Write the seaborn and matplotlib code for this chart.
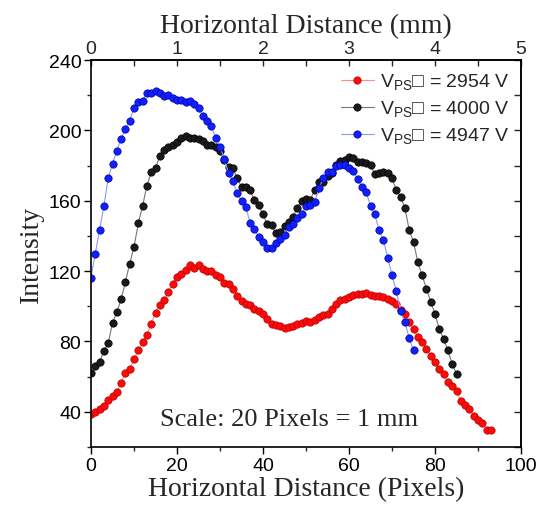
import numpy as np
import pandas as pd
import matplotlib
matplotlib.use("Agg")
import matplotlib.pyplot as plt
from matplotlib.ticker import MultipleLocator, FixedLocator
import seaborn as sns

# ---- data (intensity vs horizontal distance in pixels) ----
red_2954 = [38.8, 39.8, 41.7, 43.5, 46.8, 49.2, 51.1, 56.5, 62.2, 64.1, 69.8, 74.9, 79.6, 83.8,
            90.1, 96.4, 100.5, 103.3, 108.1, 112.9, 116.7, 118.6, 120.5, 123.3, 121.8, 123.7,
            121.4, 119.9, 120.1, 118.0, 116.7, 113.3, 112.9, 110.0, 105.9, 102.8, 101.5, 100.9,
            98.6, 97.1, 95.8, 92.5, 90.1, 89.5, 88.8, 87.6, 88.2, 88.8, 90.1, 90.7, 91.4, 91.0,
            92.0, 93.9, 94.8, 95.8, 98.2, 101.5, 103.4, 104.3, 105.3, 106.2, 106.8, 107.2, 107.7,
            106.2, 105.6, 105.6, 105.3, 103.9, 102.8, 101.5, 97.7, 95.4, 91.0, 87.2, 82.5, 79.6,
            75.8, 72.0, 68.3, 64.4, 61.6, 56.9, 54.9, 52.1, 46.4, 43.9, 41.7, 37.8, 35.6, 33.7,
            29.9, 29.9]
black_4000 = [62.2, 66.0, 68.6, 74.3, 79.1, 90.5, 96.7, 103.9, 113.8, 124.3, 133.8, 147.1, 157.1,
              168.5, 176.1, 178.8, 185.4, 188.8, 190.8, 191.7, 193.6, 195.5, 197.0, 195.9, 195.9,
              195.1, 194.0, 191.7, 191.7, 190.8, 188.0, 183.2, 179.3, 178.4, 172.7, 167.9, 167.9,
              166.0, 160.3, 157.5, 152.2, 146.5, 146.1, 141.4, 142.3, 145.8, 148.0, 150.9, 156.0,
              159.8, 160.7, 160.5, 166.0, 170.4, 170.4, 174.2, 175.6, 180.3, 182.6, 183.2, 185.1,
              184.1, 182.2, 182.2, 181.3, 180.3, 175.0, 176.0, 176.5, 175.6, 173.1, 166.0, 162.2,
              156.0, 143.3, 136.6, 125.2, 117.6, 110.0, 102.5, 95.8, 86.8, 81.5, 74.9, 67.3, 61.6]
blue_4947 = [116.3, 130.0, 143.6, 157.1, 172.7, 180.9, 188.3, 195.1, 200.8, 205.6, 212.6, 216.0,
             216.8, 221.1, 221.1, 222.1, 221.1, 219.8, 220.2, 218.3, 217.3, 217.3, 216.0, 216.8,
             214.9, 212.6, 208.4, 205.4, 202.2, 195.9, 190.8, 183.7, 175.6, 171.2, 164.2, 159.8,
             156.6, 147.5, 143.8, 139.5, 136.6, 133.4, 133.4, 136.2, 138.5, 140.4, 145.2, 146.5,
             149.9, 152.2, 157.1, 157.5, 159.4, 167.0, 172.7, 176.1, 176.5, 179.9, 180.3, 180.3,
             178.4, 176.9, 172.3, 168.0, 164.7, 157.1, 152.2, 143.2, 137.6, 127.6, 117.6, 108.5,
             97.3, 91.0, 81.9, 74.9]

series_labels = ["V$_\\mathregular{PS}$\u25a1 = 2954 V",
                 "V$_\\mathregular{PS}$\u25a1 = 4000 V",
                 "V$_\\mathregular{PS}$\u25a1 = 4947 V"]
series_values = [red_2954, black_4000, blue_4947]
marker_colors = ["#ff0a0a", "#1a1a1a", "#1020ff"]
edge_colors = ["#b00000", "#000000", "#0000a0"]
line_colors = ["#ff8a8a", "#777777", "#8a9aff"]

y_ticks = [40, 80, 120, 160, 200, 240]
x_ticks = [0, 20, 40, 60, 80, 100]
mm_ticks = [0, 1, 2, 3, 4, 5]

sns.set_theme(style="ticks")
plt.rcParams['font.family'] = ['Liberation Sans', 'DejaVu Sans']
plt.rcParams['mathtext.fontset'] = 'custom'
plt.rcParams['mathtext.rm'] = 'Liberation Sans'

fig = plt.figure(figsize=(5.6, 5.06), dpi=100)
ax = fig.add_axes([91 / 560, 1 - 448 / 506, (521 - 91) / 560, (448 - 61) / 506])

for vals, lab, mc, ec, lc in zip(series_values, series_labels, marker_colors, edge_colors, line_colors):
    df = pd.DataFrame({"px": np.arange(len(vals)), "I": vals})
    sns.lineplot(data=df, x="px", y="I", ax=ax, label=lab, color=lc, linewidth=0.8,
                 marker="o", markersize=5.3, estimator=None, sort=False)
    ln = ax.lines[-1]
    ln.set_markerfacecolor(mc)
    ln.set_markeredgecolor(ec)
    ln.set_markeredgewidth(0.5)

ax.set_xlim(0, 100)
ax.set_ylim(20, 240)
ax.xaxis.set_major_locator(FixedLocator(x_ticks))
ax.xaxis.set_minor_locator(MultipleLocator(10))
ax.yaxis.set_major_locator(FixedLocator(y_ticks))
ax.yaxis.set_minor_locator(MultipleLocator(20))
ax.tick_params(axis="both", which="major", direction="out", length=5, width=1, labelsize=14,
               colors="black", pad=2)
ax.tick_params(axis="both", which="minor", direction="out", length=3, width=1)
ax.tick_params(top=False, right=False)

serif = ['Liberation Serif', 'DejaVu Serif']
ax.set_xlabel("Horizontal Distance (Pixels)", fontsize=20, family=serif, labelpad=2)
ax.set_ylabel("Intensity", fontsize=20, family=serif, labelpad=3)

for sp in ax.spines.values():
    sp.set_linewidth(1.2)
    sp.set_color("black")
    sp.set_visible(True)

# top axis in mm
top = ax.secondary_xaxis("top", functions=(lambda p: p / 20.0, lambda m: m * 20.0))
top.xaxis.set_major_locator(FixedLocator(mm_ticks))
top.xaxis.set_minor_locator(MultipleLocator(0.5))
top.tick_params(which="both", direction="in", length=4, width=1, labelsize=14, pad=2)
top.set_xlabel("Horizontal Distance (mm)", fontsize=20, family=serif, labelpad=6)

# right axis, ticks only
right = ax.secondary_yaxis("right")
right.yaxis.set_major_locator(MultipleLocator(20))
right.tick_params(which="both", direction="in", length=5, width=1, labelright=False)

ax.text(46, 36, "Scale: 20 Pixels = 1 mm", fontsize=19, family=serif, ha="center", va="center")

leg = ax.legend(loc="upper right", frameon=False, fontsize=14, handlelength=1.7,
                handletextpad=0.3, labelspacing=0.35, borderaxespad=0.2,
                bbox_to_anchor=(1.0, 1.0))

fig.savefig("out.png", dpi=100)
